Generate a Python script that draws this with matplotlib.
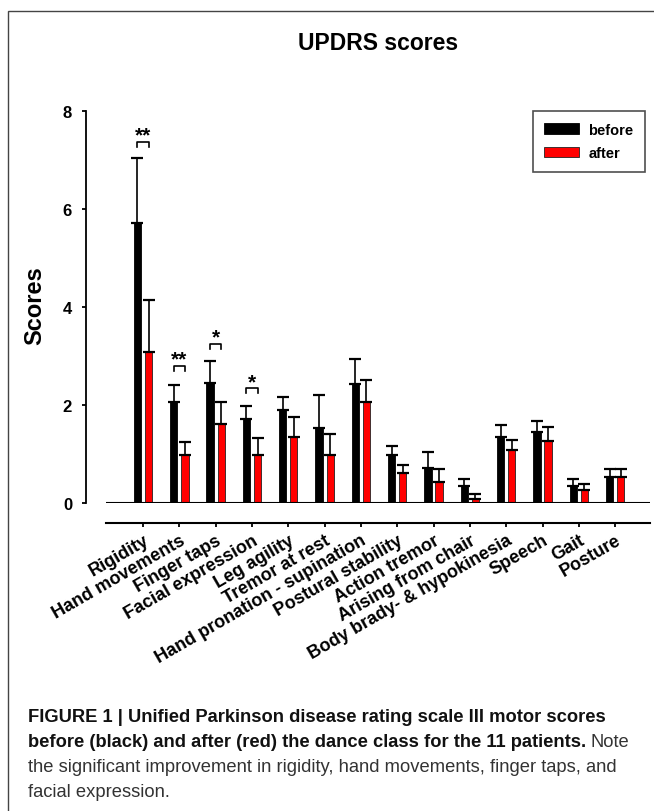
import matplotlib
matplotlib.use('Agg')
import matplotlib.pyplot as plt
import matplotlib.patches as mpatches
import numpy as np

# categorias do UPDRS III
categorias = ['Rigidity', 'Hand movements', 'Finger taps', 'Facial expression',
              'Leg agility', 'Tremor at rest', 'Hand pronation - supination',
              'Postural stability', 'Action tremor', 'Arising from chair',
              'Body brady- & hypokinesia', 'Speech', 'Gait', 'Posture']

# medias e erros (so a parte de cima)
antes = [5.72, 2.07, 2.44, 1.71, 1.90, 1.53, 2.43, 0.98, 0.71, 0.35, 1.34, 1.44, 0.35, 0.53]
antes_erro = [1.33, 0.33, 0.46, 0.27, 0.27, 0.67, 0.50, 0.19, 0.33, 0.15, 0.25, 0.24, 0.15, 0.16]
depois = [3.09, 0.98, 1.61, 0.98, 1.34, 0.98, 2.07, 0.62, 0.43, 0.08, 1.08, 1.26, 0.26, 0.53]
depois_erro = [1.05, 0.27, 0.45, 0.34, 0.42, 0.43, 0.44, 0.15, 0.26, 0.10, 0.21, 0.30, 0.13, 0.16]

# significancia
sig_idx = [0, 1, 2, 3]
sig_y = [7.37, 2.80, 3.25, 2.34]
sig_txt = ['**', '**', '*', '*']

yticks = [0, 2, 4, 6, 8]

fonte = ['Liberation Sans', 'DejaVu Sans']
fonte_legenda = ['Liberation Sans Narrow', 'Liberation Sans', 'DejaVu Sans']
plt.rcParams['font.family'] = fonte

W, H = 654, 812
fig = plt.figure(figsize=(W / 100, H / 100), dpi=100)

# moldura da figura
fig.patches.append(mpatches.Rectangle((8 / W, -0.05), 1.1, 1 - 12 / H + 0.05,
                                      transform=fig.transFigure, fill=False,
                                      edgecolor='#444444', linewidth=1.0))

ax = fig.add_axes([106 / W, 1 - 504 / H, 544 / W, 392 / H])

x = np.arange(len(categorias))
larg = 0.2
desl = 0.153

ax.bar(x - desl, antes, larg, color='black', edgecolor='black', linewidth=0.6, label='before')
ax.bar(x + desl, depois, larg, color='#ff0000', edgecolor='#222222', linewidth=0.6, label='after')
ax.errorbar(x - desl, antes, yerr=[np.zeros(len(antes)), antes_erro], fmt='none',
            ecolor='black', elinewidth=1.2, capsize=4.2, capthick=1.6)
ax.errorbar(x + desl, depois, yerr=[np.zeros(len(depois)), depois_erro], fmt='none',
            ecolor='black', elinewidth=1.2, capsize=4.2, capthick=1.6)

# linha do zero
ax.axhline(0, color='black', linewidth=1.5, zorder=5)

# colchetes de significancia
for i, yy, t in zip(sig_idx, sig_y, sig_txt):
    x0, x1 = i - desl, i + desl
    ax.plot([x0, x0, x1, x1], [yy - 0.1, yy, yy, yy - 0.1], color='black', linewidth=1.2)
    ax.text(i, yy + 0.02, t, ha='center', va='baseline', fontsize=15, fontweight='bold')

ax.set_xlim(-1.02, 13.96)
ax.set_ylim(0, 8)
ax.spines['top'].set_visible(False)
ax.spines['right'].set_visible(False)
ax.spines['left'].set_position(('outward', 14.4))
ax.spines['bottom'].set_position(('outward', 14.4))
ax.spines['left'].set_linewidth(1.3)
ax.spines['bottom'].set_linewidth(1.5)

ax.set_yticks(yticks)
ax.set_yticklabels([str(v) for v in yticks], fontsize=12, fontweight='bold')
ax.tick_params(axis='y', direction='out', length=3, width=1.3, pad=7)
ax.set_xticks(x)
ax.set_xticklabels(categorias, rotation=30, ha='right', rotation_mode='anchor',
                   fontsize=13, fontweight='bold')
ax.tick_params(axis='x', direction='out', length=3, width=1.3, pad=3)

leg = ax.legend(loc='upper right', bbox_to_anchor=(645 / W, 1 - 112 / H),
                bbox_transform=fig.transFigure, fancybox=False, frameon=True,
                prop={'weight': 'bold', 'size': 10.5}, handlelength=2.4,
                handleheight=0.75, borderpad=0.8, labelspacing=0.65, handletextpad=0.6,
                borderaxespad=0)
leg.get_frame().set_edgecolor('#222222')
leg.get_frame().set_linewidth(1.2)

fig.text(35 / W, 1 - 306 / H, 'Scores', rotation=90, ha='center', va='center',
         fontsize=17, fontweight='bold')
fig.text(378 / W, 1 - 43 / H, 'UPDRS scores', ha='center', va='center',
         fontsize=16.5, fontweight='bold')

# legenda da figura (texto embaixo)
xc = 28 / W
tam = 13.2
fig.text(xc, 1 - 718 / H, 'FIGURE 1 | Unified Parkinson disease rating scale III motor scores',
         ha='left', va='center', fontsize=tam, fontweight='bold', family=fonte_legenda, color='#111111')
t2 = fig.text(xc, 1 - 743 / H, 'before (black) and after (red) the dance class for the 11 patients.',
              ha='left', va='center', fontsize=tam, fontweight='bold', family=fonte_legenda, color='#111111')
fig.canvas.draw()
bb = t2.get_window_extent()
fig.text((bb.x1 + 4) / W, 1 - 743 / H, 'Note', ha='left', va='center', fontsize=tam,
         family=fonte_legenda, color='#333333')
fig.text(xc, 1 - 768 / H, 'the significant improvement in rigidity, hand movements, finger taps, and',
         ha='left', va='center', fontsize=tam, family=fonte_legenda, color='#333333')
fig.text(xc, 1 - 793 / H, 'facial expression.',
         ha='left', va='center', fontsize=tam, family=fonte_legenda, color='#333333')

fig.savefig('out.png', dpi=100)
